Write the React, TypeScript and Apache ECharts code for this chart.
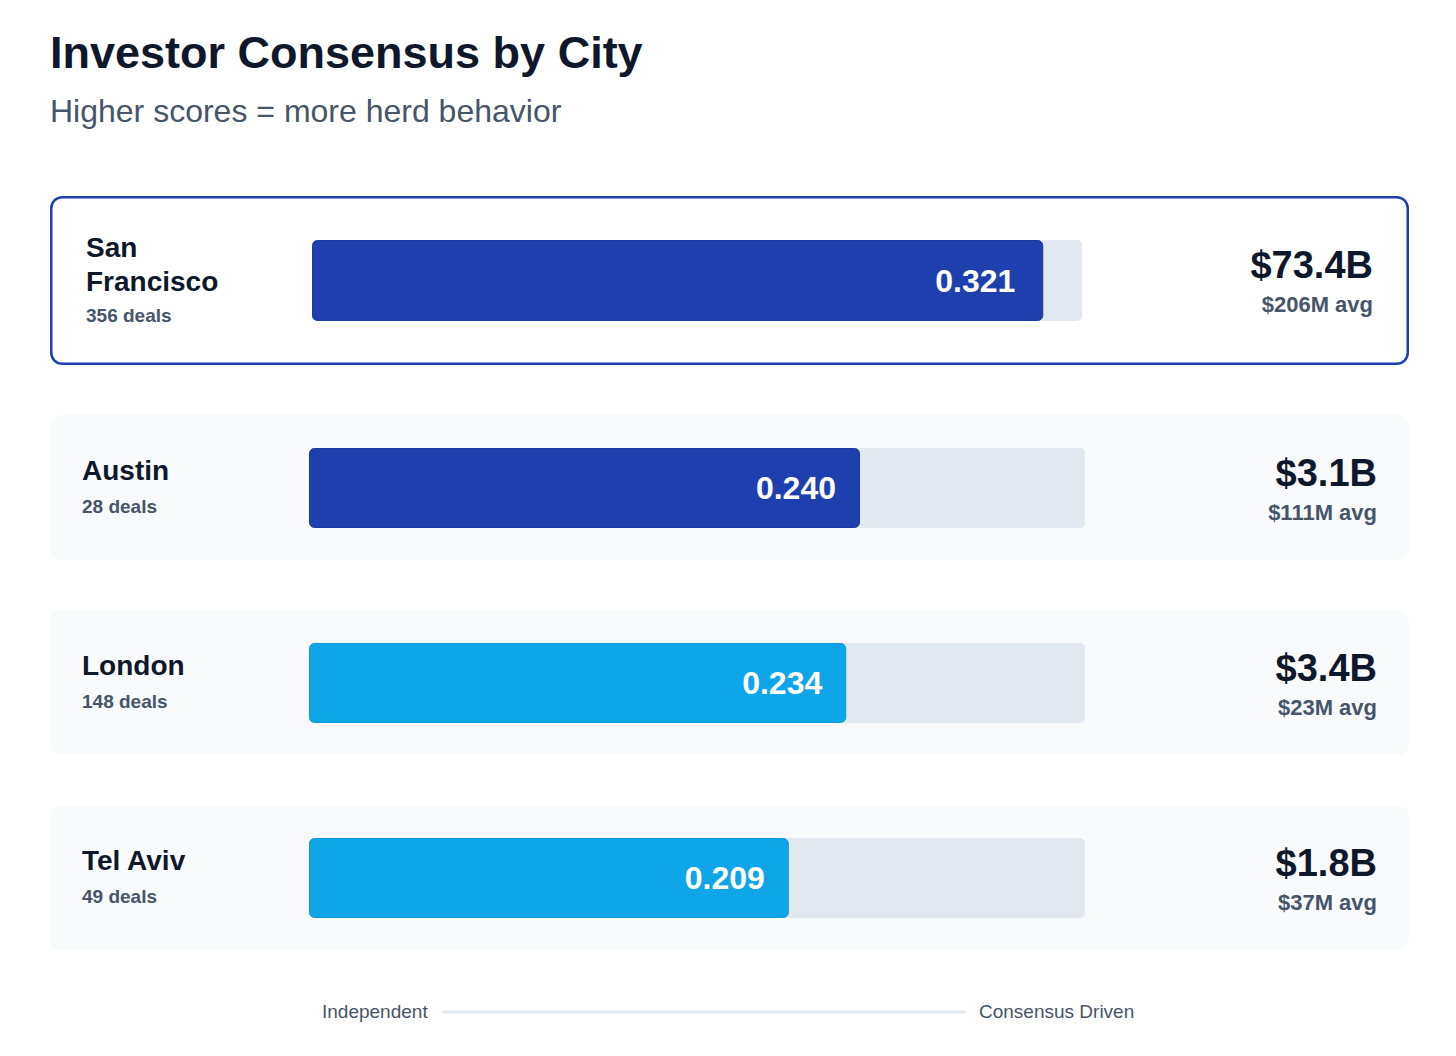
import React, { useEffect, useRef } from "react";
import * as echarts from "echarts";

const title = "Investor Consensus by City";
const subtitle = "Higher scores = more herd behavior";
const cities = ["San Francisco", "Austin", "London", "Tel Aviv"];
const deals = [356, 28, 148, 49];
const scores = [0.321, 0.24, 0.234, 0.209];
const totals = ["$73.4B", "$3.1B", "$3.4B", "$1.8B"];
const avgs = ["$206M", "$111M", "$23M", "$37M"];
const scaleMax = 0.338;
const axisEnds = ["Independent", "Consensus Driven"];

const FONT = "'Liberation Sans', Arial, Helvetica, sans-serif";
const DARK = "#0f172a";
const GREY = "#475569";
const barColors = ["#1e40af", "#1e40af", "#0ea5e9", "#0ea5e9"];
const barBorders = ["#1a3a9f", "#1a3a9f", "#0b9bdc", "#0b9bdc"];

type Layout = {
  top: number;
  h: number;
  highlight: boolean;
  trackX: number;
  trackW: number;
  trackY: number;
  trackH: number;
  nameX: number;
  nameY: number;
  dealsY: number;
  rightX: number;
  totalY: number;
  avgY: number;
  labelDist: number;
};

function layoutFor(i: number): Layout {
  if (i === 0) {
    return {
      top: 196,
      h: 169,
      highlight: true,
      trackX: 312,
      trackW: 770,
      trackY: 240,
      trackH: 81,
      nameX: 86,
      nameY: 264,
      dealsY: 315,
      rightX: 1373,
      totalY: 265,
      avgY: 304.5,
      labelDist: 28,
    };
  }
  const off = (i - 1) * 195;
  return {
    top: 415 + off,
    h: 145,
    highlight: false,
    trackX: 309,
    trackW: 776,
    trackY: 448 + off,
    trackH: 80,
    nameX: 82,
    nameY: 470.5 + off,
    dealsY: 506.5 + off,
    rightX: 1377,
    totalY: 473 + off,
    avgY: 512 + off,
    labelDist: 24,
  };
}

export default function App() {
  const ref = useRef<HTMLDivElement>(null);

  useEffect(() => {
    if (!ref.current) return;
    const chart = echarts.init(ref.current, undefined, { renderer: "svg" });

    const grids: any[] = [];
    const xAxes: any[] = [];
    const yAxes: any[] = [];
    const series: any[] = [];
    const graphics: any[] = [];

    graphics.push({
      type: "text",
      x: 50,
      y: 52,
      z: 10,
      style: {
        text: title,
        fontFamily: FONT,
        fontSize: 45,
        fontWeight: "bold",
        fill: DARK,
        align: "left",
        verticalAlign: "middle",
      },
    });
    graphics.push({
      type: "text",
      x: 50,
      y: 111,
      z: 10,
      style: {
        text: subtitle,
        fontFamily: FONT,
        fontSize: 32,
        fill: GREY,
        align: "left",
        verticalAlign: "middle",
      },
    });

    cities.forEach((city, i) => {
      const L = layoutFor(i);
      if (L.highlight) {
        graphics.push({
          type: "rect",
          z: 0,
          shape: { x: 51.25, y: L.top + 1.25, width: 1356.5, height: L.h - 2.5, r: 11 },
          style: { fill: "#ffffff", stroke: "#1e40af", lineWidth: 2.5 },
        });
      } else {
        graphics.push({
          type: "rect",
          z: 0,
          shape: { x: 50, y: L.top, width: 1359, height: L.h, r: 12 },
          style: { fill: "#f8fafc" },
        });
      }
      graphics.push({
        type: "text",
        x: L.nameX,
        y: L.nameY,
        z: 10,
        style: {
          text: city,
          width: 175,
          overflow: "break",
          lineHeight: 34,
          fontFamily: FONT,
          fontSize: 28,
          fontWeight: "bold",
          fill: DARK,
          align: "left",
          verticalAlign: "middle",
        },
      });
      graphics.push({
        type: "text",
        x: L.nameX,
        y: L.dealsY,
        z: 10,
        style: {
          text: `${deals[i]} deals`,
          fontFamily: FONT,
          fontSize: 19,
          fontWeight: "bold",
          fill: GREY,
          align: "left",
          verticalAlign: "middle",
        },
      });
      graphics.push({
        type: "text",
        x: L.rightX,
        y: L.totalY,
        z: 10,
        style: {
          text: totals[i],
          fontFamily: FONT,
          fontSize: 38,
          fontWeight: "bold",
          fill: DARK,
          align: "right",
          verticalAlign: "middle",
        },
      });
      graphics.push({
        type: "text",
        x: L.rightX,
        y: L.avgY,
        z: 10,
        style: {
          text: `${avgs[i]} avg`,
          fontFamily: FONT,
          fontSize: 22,
          fontWeight: "bold",
          fill: GREY,
          align: "right",
          verticalAlign: "middle",
        },
      });

      grids.push({
        left: L.trackX,
        top: L.trackY,
        width: L.trackW,
        height: L.trackH,
        containLabel: false,
      });
      xAxes.push({
        type: "value",
        gridIndex: i,
        min: 0,
        max: scaleMax,
        show: false,
      });
      yAxes.push({
        type: "category",
        gridIndex: i,
        data: [city],
        show: false,
      });
      series.push({
        type: "bar",
        xAxisIndex: i,
        yAxisIndex: i,
        data: [scores[i]],
        barWidth: L.trackH,
        showBackground: true,
        backgroundStyle: { color: "#e2e8f0", borderRadius: 5 },
        itemStyle: {
          color: barColors[i],
          borderColor: barBorders[i],
          borderWidth: 1,
          borderRadius: 5,
        },
        label: {
          show: true,
          position: "insideRight",
          distance: L.labelDist,
          formatter: (p: any) => Number(p.value).toFixed(3),
          color: "#ffffff",
          fontFamily: FONT,
          fontSize: 32,
          fontWeight: "bold",
        },
        silent: true,
      });
    });

    graphics.push({
      type: "text",
      x: 322,
      y: 1011.5,
      z: 10,
      style: {
        text: axisEnds[0],
        fontFamily: FONT,
        fontSize: 19,
        fill: GREY,
        align: "left",
        verticalAlign: "middle",
      },
    });
    graphics.push({
      type: "line",
      z: 5,
      shape: { x1: 443, y1: 1012, x2: 965, y2: 1012 },
      style: { stroke: "#e2e8f0", lineWidth: 3, lineCap: "round" },
    });
    graphics.push({
      type: "text",
      x: 979,
      y: 1011.5,
      z: 10,
      style: {
        text: axisEnds[1],
        fontFamily: FONT,
        fontSize: 19,
        fill: GREY,
        align: "left",
        verticalAlign: "middle",
      },
    });

    chart.setOption({
      animation: false,
      backgroundColor: "#ffffff",
      grid: grids,
      xAxis: xAxes,
      yAxis: yAxes,
      series,
      graphic: { elements: graphics },
    });

    return () => {
      chart.dispose();
    };
  }, []);

  return (
    <div
      ref={ref}
      style={{ position: "absolute", left: 0, top: 0, width: 1456, height: 1056 }}
    />
  );
}
